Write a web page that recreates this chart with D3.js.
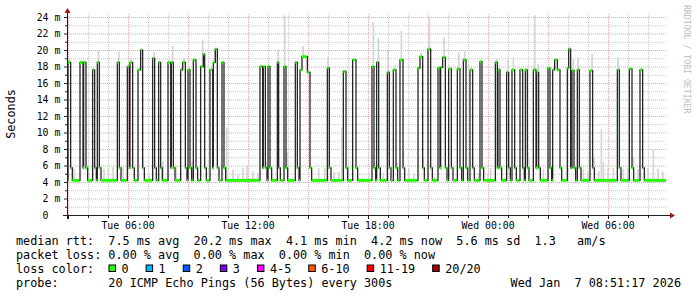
<!DOCTYPE html>
<html>
<head>
<meta charset="utf-8">
<script src="https://cdn.jsdelivr.net/npm/d3@7"></script>
<style>
body { margin: 0; background: #fff; }
text { font-family: "DejaVu Sans Mono", monospace; white-space: pre; }
</style>
</head>
<body>
<script>
// 30 hour window ending Wed Jan 7 2026
const startTime = new Date(2026, 0, 6, 2, 57);
const spanMin = 1800;
const dataEndMin = 1796;

const yTicks = [0, 2, 4, 6, 8, 10, 12, 14, 16, 18, 20, 22, 24];

// median rtt: baseline, shoulder after each burst, and the bursts (minutes after start, ms)
const baseMs = 4.2;
const shoulderMs = 5.7;
const pulseFrom = [3,39,50,77,91,151,181,189,213,221,257,275,303,313,341,347,363,379,401,409,
  429,439,445,465,579,589,603,631,651,685,699,705,721,781,829,857,915,929,961,979,
  999,1053,1059,1083,1113,1121,1127,1145,1171,1189,1209,1239,1285,1293,1319,1335,1359,1375,1399,1409,
  1443,1457,1463,1471,1501,1505,1515,1531,1569,1651,1687,1719];
const pulseTo = [11,48,57,83,97,157,187,197,221,227,263,281,311,319,347,355,369,387,409,413,
  437,445,451,471,587,595,609,635,657,691,705,721,729,787,837,867,921,935,967,987,
  1008,1059,1067,1091,1119,1127,1135,1153,1179,1197,1217,1245,1291,1299,1325,1343,1367,1381,1407,1415,
  1449,1463,1471,1479,1505,1511,1521,1537,1577,1657,1695,1727];
const pulseMs = [18.5,18.5,18.5,17.6,18.5,18.5,18.0,18.5,17.6,20.0,19.0,18.5,18.5,18.5,17.6,18.5,17.6,18.8,18.0,19.5,
  17.6,18.5,20.1,18.5,18.0,18.0,18.0,18.5,18.0,18.5,17.6,19.2,17.3,17.8,17.4,18.8,18.0,18.5,17.3,17.6,
  18.8,17.8,19.2,20.1,17.8,17.9,19.1,17.7,17.7,18.8,17.6,18.6,18.5,17.6,17.3,17.6,17.6,17.6,17.6,17.3,
  17.8,17.6,18.8,17.6,17.8,20.1,17.5,17.6,17.5,17.6,17.7,17.6];

// smoke tops that stand out above the median
const smokeMin = [8,21,94,111,124,138,155,168,192,227,246,261,288,317,327,351,375,407,438,443,
  479,498,513,528,540,558,573,597,633,653,660,693,708,755,773,783,801,815,824,861,
  905,919,923,934,949,963,985,991,1003,1009,1025,1041,1063,1069,1087,1103,1131,1149,1175,1193,
  1199,1217,1235,1263,1271,1289,1297,1323,1339,1385,1403,1413,1429,1447,1509,1519,1533,1549,1563,1575,
  1581,1595,1603,1609,1623,1639,1653,1669,1683,1699,1713,1723,1743,1759,1773,1787];
const smokeMs = [19.0,5.6,20.0,5.6,5.6,5.8,19.8,5.8,19.0,7.0,4.8,19.7,6.5,20.5,6.0,19.0,6.5,21.2,5.8,20.2,
  10.6,5.5,4.9,5.7,5.9,5.3,5.1,6.4,20.0,24.2,7.6,5.9,20.5,5.7,5.7,19.1,5.2,5.2,10.6,18.9,
  4.8,23.4,6.3,21.5,5.1,19.9,18.2,6.3,22.3,7.8,5.7,5.0,19.7,7.0,24.0,4.6,21.5,18.0,19.7,19.9,
  5.7,7.1,5.1,5.1,5.7,18.9,18.2,18.8,19.1,7.0,24.2,18.3,5.6,18.0,20.3,18.9,19.1,5.6,5.3,19.5,
  7.0,5.3,10.4,6.4,5.6,5.7,19.1,5.6,5.7,7.0,5.6,17.8,5.7,8.0,5.6,5.3];

const lossLabels = ["0", "1", "2", "3", "4-5", "6-10", "11-19", "20/20"];
const lossColors = ["#26ff00", "#00b8ff", "#0059ff", "#7e00ff", "#ff00ff", "#ff5500", "#ff0000", "#a10000"];

const legendRows = [
  "median rtt:  7.5 ms avg  20.2 ms max  4.1 ms min  4.2 ms now  5.6 ms sd  1.3   am/s",
  "packet loss: 0.00 % avg  0.00 % max  0.00 % min  0.00 % now",
  "loss color:",
  "probe:       20 ICMP Echo Pings (56 Bytes) every 300s"
];
const stamp = "Wed Jan  7 08:51:17 2026";

const W = 697, H = 297;
const svg = d3.select("body").append("svg").attr("width", W).attr("height", H);

const tm = m => d3.timeMinute.offset(startTime, m);
const x = d3.scaleTime().domain([startTime, tm(spanMin)]).range([67, 667]);
const y = d3.scaleLinear().domain([0, 24]).range([215, 17]);

// grid
const grid = svg.append("g");
const minorH = y.ticks(24), majorH = y.ticks(12);
grid.selectAll(".hmin").data(minorH.filter(v => v % 2 !== 0)).enter().append("line")
  .attr("x1", 67).attr("x2", 667).attr("y1", d => y(d) + 0.5).attr("y2", d => y(d) + 0.5)
  .attr("stroke", "#c8c8c8").attr("stroke-dasharray", "1,1");
const hours = x.ticks(d3.timeHour.every(1));
grid.selectAll(".vmin").data(hours.filter(d => d.getHours() % 3 !== 0)).enter().append("line")
  .attr("x1", d => Math.round(x(d)) + 0.5).attr("x2", d => Math.round(x(d)) + 0.5)
  .attr("y1", 215).attr("y2", 13)
  .attr("stroke", "#c8c8c8").attr("stroke-dasharray", "1,1");
grid.selectAll(".hmaj").data(majorH.filter(v => v > 0)).enter().append("line")
  .attr("x1", 67).attr("x2", 667).attr("y1", d => y(d) + 0.5).attr("y2", d => y(d) + 0.5)
  .attr("stroke", "#eba3a3").attr("stroke-dasharray", "1,1");
grid.selectAll(".vmaj").data(hours.filter(d => d.getHours() % 3 === 0)).enter().append("line")
  .attr("x1", d => Math.round(x(d)) + 0.5).attr("x2", d => Math.round(x(d)) + 0.5)
  .attr("y1", 215).attr("y2", 13)
  .attr("stroke", "#eba3a3").attr("stroke-dasharray", "1,1");

// median as step segments
const segs = [];
let cur = 0;
for (let i = 0; i < pulseFrom.length; i++) {
  const s = pulseFrom[i], e = pulseTo[i];
  if (s > cur) {
    if (i > 0) {
      const sh = Math.min(cur + 5, s);
      segs.push({ t0: cur, t1: sh, v: shoulderMs });
      cur = sh;
    }
    if (s > cur) segs.push({ t0: cur, t1: s, v: baseMs });
  }
  segs.push({ t0: s, t1: e, v: pulseMs[i] });
  cur = e;
}
segs.push({ t0: cur, t1: cur + 5, v: shoulderMs });
segs.push({ t0: cur + 5, t1: dataEndMin, v: baseMs });

function medianAt(m) {
  const s = segs.find(d => m >= d.t0 && m < d.t1);
  return s ? s.v : baseMs;
}

// smoke
svg.append("g").selectAll("rect").data(smokeMin).enter().append("rect")
  .attr("x", d => x(tm(d)) - 0.8)
  .attr("width", 1.7)
  .attr("y", (d, i) => Math.max(12, y(smokeMs[i])))
  .attr("height", (d, i) => Math.max(0, y(medianAt(d)) - Math.max(12, y(smokeMs[i]))))
  .attr("fill", "#d4d4d4");

// median line
const pts = segs.flatMap(d => [[x(tm(d.t0)), y(d.v)], [x(tm(d.t1)), y(d.v)]]);
svg.append("path").attr("d", d3.line()(pts))
  .attr("fill", "none").attr("stroke", "#202020").attr("stroke-width", 1.25);
svg.append("g").selectAll("rect").data(segs).enter().append("rect")
  .attr("x", d => x(tm(d.t0)))
  .attr("width", d => Math.max(1.2, x(tm(d.t1)) - x(tm(d.t0)) - 0.6))
  .attr("y", d => y(d.v) - 1.5).attr("height", 3)
  .attr("fill", lossColors[0]);

// axes
const axc = "#202020", arrow = "#a01515";
svg.append("line").attr("x1", 63).attr("x2", 671).attr("y1", 215.5).attr("y2", 215.5).attr("stroke", axc);
svg.append("line").attr("x1", 67.5).attr("x2", 67.5).attr("y1", 219).attr("y2", 12).attr("stroke", axc);
svg.append("path").attr("d", "M670,212.5L675,215.5L670,218.5Z").attr("fill", arrow);
svg.append("path").attr("d", "M64.5,13L67.5,8L70.5,13Z").attr("fill", arrow);

svg.append("g").selectAll("line").data(hours).enter().append("line")
  .attr("x1", d => Math.round(x(d)) + 0.5).attr("x2", d => Math.round(x(d)) + 0.5)
  .attr("y1", 216).attr("y2", d => d.getHours() % 3 === 0 ? 219 : 218)
  .attr("stroke", axc);
svg.append("g").selectAll("line").data(minorH).enter().append("line")
  .attr("x1", d => d % 2 === 0 ? 64 : 65).attr("x2", 67)
  .attr("y1", d => y(d) + 0.5).attr("y2", d => y(d) + 0.5)
  .attr("stroke", axc);

// y tick labels
const yl = svg.append("g").attr("font-size", "9.8px").attr("fill", "#000");
yl.selectAll(".n").data(yTicks).enter().append("text")
  .attr("x", 48.5).attr("y", d => y(d) + 3.8).attr("text-anchor", "end").text(d => d);
yl.selectAll(".u").data(yTicks.filter(d => d > 0)).enter().append("text")
  .attr("x", 54.5).attr("y", d => y(d) + 3.8).text("m");

// x tick labels
svg.append("g").selectAll("text").data(x.ticks(d3.timeHour.every(6))).enter().append("text")
  .attr("x", d => x(d)).attr("y", 228.8).attr("text-anchor", "middle")
  .attr("font-size", "9.8px").text(d3.timeFormat("%a %H:%M"));

// axis title and watermark
svg.append("text").attr("transform", "translate(14.5,114) rotate(-90)")
  .attr("text-anchor", "middle").attr("font-size", "11.8px").text("Seconds");
svg.append("text").attr("transform", "translate(684,5) rotate(90)")
  .attr("font-size", "8.2px").attr("fill", "#bdbdbd").text("RRDTOOL / TOBI OETIKER");

// legend
const lg = svg.append("g").attr("font-size", "11.8px").attr("fill", "#000");
legendRows.forEach((r, i) => {
  lg.append("text").attr("x", 16).attr("y", 244.5 + i * 14).text(r);
});
let bx = 108.5;
lossLabels.forEach((l, i) => {
  lg.append("rect").attr("x", bx + 0.5).attr("y", 265).attr("width", 6.5).attr("height", 6.5)
    .attr("fill", lossColors[i]).attr("stroke", "#000").attr("stroke-width", 1);
  const t = lg.append("text").attr("x", bx + 13).attr("y", 272.5).text(l);
  bx = bx + 13 + t.node().getComputedTextLength() + 17;
});
lg.append("text").attr("x", 681).attr("y", 286.5).attr("text-anchor", "end").text(stamp);
</script>
</body>
</html>
